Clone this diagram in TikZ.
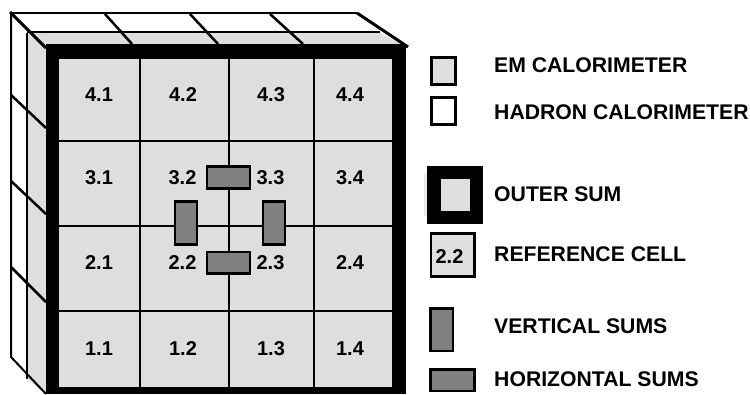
\documentclass[tikz,border=0pt]{standalone}
\usepackage{fontspec}
\setmainfont{Liberation Sans}
\definecolor{emgray}{gray}{0.87}
\definecolor{sumgray}{gray}{0.5}
\tikzset{
  wire/.style={draw=black,line width=2pt},
  thinwire/.style={draw=black,line width=2pt},
  sumbox/.style={fill=sumgray,draw=black,line width=2.5pt},
  keybox/.style={draw=black,line width=2.2pt},
  cell/.style={font=\bfseries\fontsize{20}{22}\selectfont,inner sep=0pt},
  keylabel/.style={font=\bfseries\fontsize{21.2}{24}\selectfont,inner sep=0pt,anchor=west},
}
\begin{document}
\begin{tikzpicture}[x=1pt,y=-1pt]
\useasboundingbox (0,0) rectangle (750,394);
% EM side and top faces
\fill[emgray] (27,33) -- (380,33) -- (405,46) -- (46,46) -- (46,394) -- (27,379) -- cycle;
% outer hadron outline
\draw[wire] (10,13) -- (357,13);
\draw[wire,line width=3pt] (357,13) -- (408,47);
\draw[wire] (27,32) -- (380,32);
\draw[wire] (11,13) -- (11,357) -- (46,394);
\draw[wire] (27,33) -- (27,379);
\draw[wire,line width=3pt] (10,12) -- (46,48);
% cell divisions on hadron and EM faces
\foreach \a/\b in {105/132,190/218,270/303}{\draw[wire,line width=2.5pt] (\a,14) -- (\b,44);}
\foreach \a/\b in {95/128,181/214,267/302}{\draw[wire,line width=2.5pt] (11,\a) -- (46,\b);}
% outer sum frame
\fill[black] (46,44) rectangle (405.5,394);
\fill[emgray] (59,59) rectangle (392,387);
% grid
\draw[thinwire] (140,59) -- (140,387);
\draw[thinwire] (228.5,59) -- (228.5,387);
\draw[thinwire] (314,59) -- (314,387);
\draw[thinwire] (59,141) -- (392,141);
\draw[thinwire] (59,225.5) -- (392,225.5);
\draw[thinwire] (59,311) -- (392,311);
% cell labels
\foreach \n/\t/\x/\y in {a/4.1/99/95,b/4.2/183/95,c/4.3/271/95,d/4.4/350/95,
  e/3.1/99/177.5,f/3.2/182.5/177.5,g/3.3/270.5/177.5,h/3.4/350/177.5,
  i/2.1/99/262.5,j/2.2/182.5/262.5,k/2.3/270.5/262.5,l/2.4/350/262.5,
  m/1.1/99/348.5,n/1.2/183/348.5,o/1.3/271/348.5,p/1.4/350/348.5}{
  \node[cell] (cell\n) at (\x,\y) {\t};
}
% sums
\draw[sumbox] (207,166.5) rectangle (250,188.5);
\draw[sumbox] (207,252) rectangle (250,273.5);
\draw[sumbox] (175,201.5) rectangle (197,244.5);
\draw[sumbox] (263,201.5) rectangle (285,244.5);
% legend
\draw[keybox,fill=emgray] (431.5,57.5) rectangle (455.5,84.5);
\draw[keybox,fill=white] (431.5,97.5) rectangle (455.5,124.5);
\fill[black!8] (424,173) rectangle (427,216);
\fill[black] (427,166) rectangle (483,224);
\fill[emgray] (440.5,179) rectangle (470,211);
\draw[keybox,line width=2.5pt,fill=emgray] (431,233.5) rectangle (474.5,276.5);
\node[cell] (refcell) at (449.5,257) {2.2};
\draw[sumbox] (430.5,308.5) rectangle (453,351);
\draw[sumbox] (430.5,369.5) rectangle (474.5,391);
\node[keylabel] (kem) at (494,65.5) {EM CALORIMETER};
\node[keylabel] (khad) at (494,112.5) {HADRON CALORIMETER};
\node[keylabel] (kout) at (494,194.5) {OUTER SUM};
\node[keylabel] (kref) at (494,254.5) {REFERENCE CELL};
\node[keylabel] (kver) at (494,326.5) {VERTICAL SUMS};
\node[keylabel] (khor) at (494,379.5) {HORIZONTAL SUMS};
\end{tikzpicture}
\end{document}
